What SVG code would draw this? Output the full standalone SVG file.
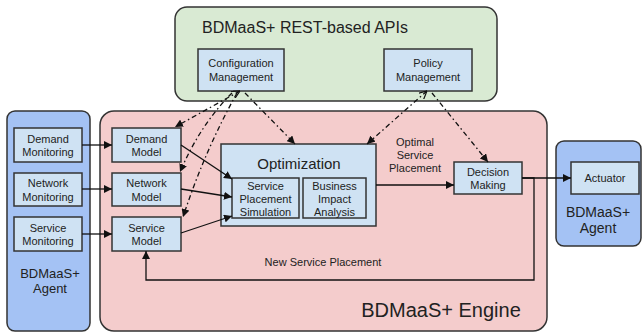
<svg xmlns="http://www.w3.org/2000/svg" width="642" height="333" viewBox="0 0 642 333">
<style>
text{font-family:"Liberation Sans",Arial,sans-serif;fill:#222;text-anchor:middle}
.s{font-size:11px}
.box{fill:#cfe2f3;stroke:#333;stroke-width:1.5}
.ln{fill:none;stroke:#111;stroke-width:1.3}
.dd{fill:none;stroke:#111;stroke-width:1.3;stroke-dasharray:5,3,1.5,3}
</style>
<defs>
<marker id="ah" viewBox="0 0 10 10" refX="10" refY="5" markerWidth="8" markerHeight="8" markerUnits="userSpaceOnUse" orient="auto">
<path d="M0,0L10,5L0,10z" fill="#111"/>
</marker>
<marker id="as" viewBox="0 0 10 10" refX="0" refY="5" markerWidth="8" markerHeight="8" markerUnits="userSpaceOnUse" orient="auto">
<path d="M10,0L0,5L10,10" fill="none" stroke="#111" stroke-width="1.5"/>
</marker>
</defs>
<g id="rest-apis">
<rect x="175" y="7" width="322" height="94" rx="12" fill="#d9ead3" stroke="#333" stroke-width="1.5"/>
<text x="305" y="33" style="font-size:16px">BDMaaS+ REST-based APIs</text>
</g>
<g id="agent-left">
<rect x="7" y="111" width="83" height="220" rx="8" fill="#a4c2f4" stroke="#333" stroke-width="1.5"/>
<text x="50" y="278" style="font-size:13px">BDMaaS+</text>
<text x="50" y="293" style="font-size:13px">Agent</text>
</g>
<g id="engine">
<rect x="100" y="111" width="447" height="220" rx="14" fill="#f4cccc" stroke="#333" stroke-width="1.5"/>
<text x="441" y="317" style="font-size:20px">BDMaaS+ Engine</text>
</g>
<g id="agent-right">
<rect x="556" y="141" width="85" height="105" rx="8" fill="#a4c2f4" stroke="#333" stroke-width="1.5"/>
<text x="598" y="217" style="font-size:14px">BDMaaS+</text>
<text x="598" y="233" style="font-size:14px">Agent</text>
</g>
<g id="config-mgmt">
<rect class="box" x="198" y="49" width="86" height="42"/>
<text class="s" x="241" y="67">Configuration</text>
<text class="s" x="241" y="81">Management</text>
</g>
<g id="policy-mgmt">
<rect class="box" x="384" y="49" width="88" height="42"/>
<text class="s" x="428" y="67">Policy</text>
<text class="s" x="428" y="81">Management</text>
</g>
<g id="demand-monitoring">
<rect class="box" x="14" y="128" width="68" height="34"/>
<text class="s" x="48" y="143">Demand</text>
<text class="s" x="48" y="156">Monitoring</text>
</g>
<g id="network-monitoring">
<rect class="box" x="14" y="173" width="68" height="33"/>
<text class="s" x="48" y="187">Network</text>
<text class="s" x="48" y="201">Monitoring</text>
</g>
<g id="service-monitoring">
<rect class="box" x="14" y="217" width="68" height="34"/>
<text class="s" x="48" y="232">Service</text>
<text class="s" x="48" y="245">Monitoring</text>
</g>
<g id="demand-model">
<rect class="box" x="112" y="128" width="69" height="34"/>
<text class="s" x="146.5" y="143">Demand</text>
<text class="s" x="146.5" y="156">Model</text>
</g>
<g id="network-model">
<rect class="box" x="112" y="173" width="69" height="33"/>
<text class="s" x="146.5" y="187">Network</text>
<text class="s" x="146.5" y="201">Model</text>
</g>
<g id="service-model">
<rect class="box" x="112" y="217" width="69" height="34"/>
<text class="s" x="146.5" y="232">Service</text>
<text class="s" x="146.5" y="245">Model</text>
</g>
<g id="optimization">
<rect class="box" x="221" y="144" width="155" height="82"/>
<text x="299" y="169" style="font-size:15px">Optimization</text>
</g>
<g id="service-placement-simulation">
<rect class="box" x="232" y="178" width="67" height="40"/>
<text class="s" x="265.5" y="190">Service</text>
<text class="s" x="265.5" y="203">Placement</text>
<text class="s" x="265.5" y="216">Simulation</text>
</g>
<g id="business-impact-analysis">
<rect class="box" x="303" y="178" width="63" height="40"/>
<text class="s" x="334.5" y="190">Business</text>
<text class="s" x="334.5" y="203">Impact</text>
<text class="s" x="334.5" y="216">Analysis</text>
</g>
<g id="decision-making">
<rect class="box" x="454" y="162" width="68" height="32"/>
<text class="s" x="488" y="176">Decision</text>
<text class="s" x="488" y="189">Making</text>
</g>
<g id="actuator">
<rect class="box" x="571" y="162" width="68" height="32"/>
<text class="s" x="605" y="182">Actuator</text>
</g>
<g id="labels">
<text class="s" x="415" y="146">Optimal</text>
<text class="s" x="415" y="159">Service</text>
<text class="s" x="415" y="172">Placement</text>
<text class="s" x="323" y="266">New Service Placement</text>
</g>
<g id="connectors">
<path class="ln" d="M82,145H112" marker-end="url(#ah)"/>
<path class="ln" d="M82,189H112" marker-end="url(#ah)"/>
<path class="ln" d="M82,234H112" marker-end="url(#ah)"/>
<path class="ln" d="M181,145L232,179" marker-end="url(#ah)"/>
<path class="ln" d="M181,189L232,197" marker-end="url(#ah)"/>
<path class="ln" d="M181,233L232,216" marker-end="url(#ah)"/>
<path class="ln" d="M376,185H454" marker-end="url(#ah)"/>
<path class="ln" d="M522,178H571" marker-end="url(#ah)"/>
<path class="ln" d="M522,178H534V280H146V251" marker-end="url(#ah)"/>
<path class="dd" d="M240,91L175,127" marker-start="url(#as)" marker-end="url(#ah)"/>
<path class="dd" d="M232,93Q200,125 180,172" marker-end="url(#ah)"/>
<path class="dd" d="M237,93Q205,150 183,217" marker-end="url(#ah)"/>
<path class="dd" d="M245,93L295,144" marker-end="url(#ah)"/>
<path class="dd" d="M427,91L367,144" marker-start="url(#as)" marker-end="url(#ah)"/>
<path class="dd" d="M432,93L488,162" marker-end="url(#ah)"/>
</g>
</svg>
